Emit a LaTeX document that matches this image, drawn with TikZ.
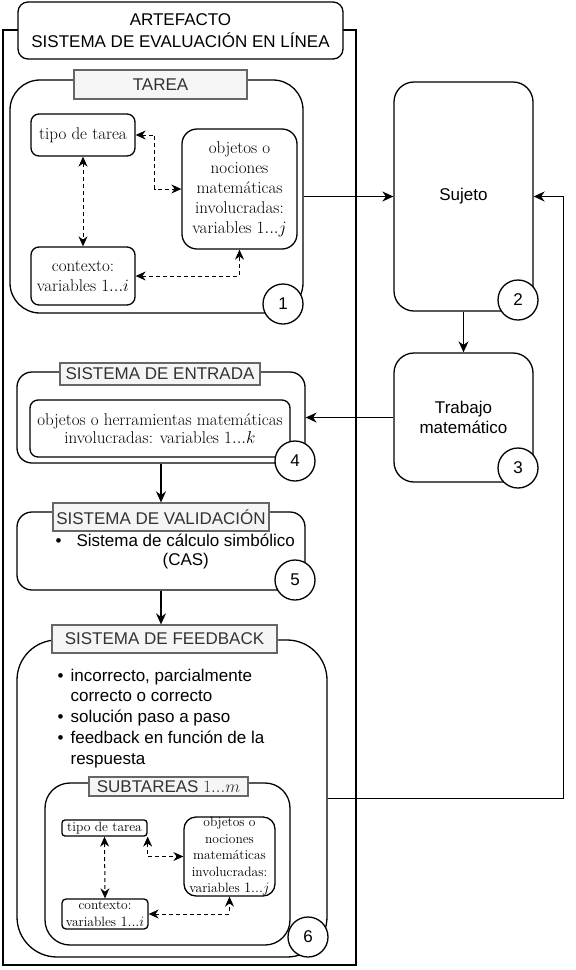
\documentclass[tikz,border=0pt]{standalone}
\usepackage{fontspec}
\newfontfamily\hv{Liberation Sans}
\usetikzlibrary{arrows.meta,positioning}
\definecolor{lblfill}{HTML}{F5F5F5}
\definecolor{lbldraw}{HTML}{666666}
\definecolor{lbltext}{HTML}{333333}
\tikzstyle{every node}+=[inner sep=0pt,align=center]
\tikzstyle{every path}+=[line width=1.3pt]
\tikzstyle{cont}=[draw,rounded corners=15pt]
\tikzstyle{lbl}=[draw=lbldraw,fill=lblfill,text=lbltext,font=\hv\fontsize{17}{21}\selectfont]
\tikzstyle{box}=[draw,rounded corners=8pt,font=\fontsize{17}{20}\selectfont]
\tikzstyle{sbox}=[draw,rounded corners=4pt,font=\fontsize{13.5}{16.5}\selectfont]
\tikzstyle{sans}=[font=\hv\fontsize{17}{20}\selectfont]
\tikzstyle{num}=[draw,circle,fill=white,minimum size=40pt,font=\hv\fontsize{17}{21}\selectfont]
\tikzstyle{arr}=[-{Stealth[length=11pt,width=10pt]}]
\tikzstyle{darr}=[line width=1pt,{Stealth[length=10pt,width=9pt]}-{Stealth[length=10pt,width=9pt]},dash pattern=on 4pt off 3pt]
\newcommand{\drawlinks}[2][\empty]{
	\foreach \a/\b in {#2}{
		\draw[#1] (\a) -- (\b);
	}
}

\begin{document}
\begin{tikzpicture}[x=1pt,y=-1pt]
\useasboundingbox (0,0) rectangle (576,970);

% artefacto
\node[draw,minimum width=353pt,minimum height=935pt] (art) at (179.5,497.5) {};
\node[draw,fill=white,rounded corners=10pt,minimum width=325pt,minimum height=57pt,sans,font=\hv\fontsize{17}{22}\selectfont] (title) at (180.5,30.5) {ARTEFACTO\\SISTEMA DE EVALUACIÓN EN LÍNEA};

% tarea
\node[cont,rounded corners=30pt,minimum width=293pt,minimum height=233pt] (tarea) at (156.5,196.5) {};
\node[lbl,minimum width=173pt,minimum height=29pt] (tarealbl) at (160.5,84.5) {TAREA};
\node[box,minimum width=104pt,minimum height=42pt] (tipo) at (83,135) {tipo de tarea};
\node[box,rounded corners=15pt,minimum width=115pt,minimum height=120pt] (obj) at (239.5,189) {objetos o\\nociones\\matemáticas\\involucradas:\\variables $1...j$};
\node[box,minimum width=104pt,minimum height=58pt] (ctx) at (83,276) {contexto:\\variables $1...i$};
\node[num] (c1) at (283,304) {1};

\drawlinks[darr]{tipo.south/ctx.north}
\draw[darr] (tipo.east) -- ++(19,0) |- (obj.west);
\draw[darr] (ctx.east) -| (obj.south);

% sujeto y trabajo
\node[cont,rounded corners=20pt,minimum width=139pt,minimum height=229pt,sans] (suj) at (463.5,196.5) {Sujeto};
\node[num] (c2) at (518,300) {2};
\node[cont,rounded corners=20pt,minimum width=139pt,minimum height=129pt,sans] (trab) at (463.5,417.5) {Trabajo\\matemático};
\node[num] (c3) at (518,468) {3};

% entrada
\node[cont,minimum width=288pt,minimum height=91pt] (ent) at (161,417.5) {};
\node[lbl,minimum width=200pt,minimum height=22pt] (entlbl) at (160,374) {SISTEMA DE ENTRADA};
\node[box,minimum width=260pt,minimum height=57pt,font=\fontsize{17}{18.5}\selectfont] (entin) at (160,428.5) {objetos o herramientas matemáticas\\involucradas: variables $1...k$};
\node[num] (c4) at (295,461) {4};

% validacion
\node[cont,minimum width=288pt,minimum height=78pt] (val) at (161,551) {};
\node[lbl,minimum width=216pt,minimum height=28pt] (vallbl) at (161,517) {SISTEMA DE VALIDACIÓN};
\node[anchor=west,font=\hv\fontsize{17}{19}\selectfont] (valtxt) at (55,552) {\begin{tabular}{@{}l@{\hspace{15pt}}c@{}}\textbullet & Sistema de cálculo simbólico\\ & (CAS)\end{tabular}};
\node[num] (c5) at (295,580) {5};

% feedback
\node[cont,rounded corners=40pt,minimum width=310pt,minimum height=317pt] (fb) at (172,798.5) {};
\node[lbl,minimum width=225pt,minimum height=28pt] (fblbl) at (164.5,639) {SISTEMA DE FEEDBACK};
\node[anchor=west,font=\hv\fontsize{17}{20.8}\selectfont] (fbtxt) at (57,718.5) {\begin{tabular}{@{}l@{\hspace{7pt}}l@{}}\textbullet & incorrecto, parcialmente\\ & correcto o correcto\\ \textbullet & solución paso a paso\\ \textbullet & feedback en función de la\\ & respuesta\end{tabular}};

% subtareas
\node[cont,rounded corners=25pt,minimum width=245pt,minimum height=162pt] (sub) at (167.5,864) {};
\node[lbl,minimum width=159pt,minimum height=19pt] (sublbl) at (168.5,786.5) {SUBTAREAS $1...m$};
\node[sbox,rounded corners=3pt,minimum width=85pt,minimum height=16pt] (stipo) at (104.5,828) {tipo de tarea};
\node[sbox,rounded corners=12pt,minimum width=91pt,minimum height=79pt] (sobj) at (229.5,856.5) {objetos o\\nociones\\matemáticas\\involucradas:\\variables $1...j$};
\node[sbox,minimum width=86pt,minimum height=30pt] (sctx) at (105,914) {contexto:\\variables $1...i$};
\node[num] (c6) at (308,937) {6};

\drawlinks[darr]{stipo.south/sctx.north}
\draw[darr] (stipo.south east) |- (sobj.west);
\draw[darr] (sctx.east) -| (sobj.south);

% flujo
\drawlinks[arr]{tarea.east/suj.west,suj.south/trab.north,trab.west/ent.east,ent.south/vallbl.north}
\draw[arr] (val.south) -- (val.south |- fblbl.north);
\draw[arr] (fb.east) -- ++(236,0) |- (suj.east);

\end{tikzpicture}
\end{document}
